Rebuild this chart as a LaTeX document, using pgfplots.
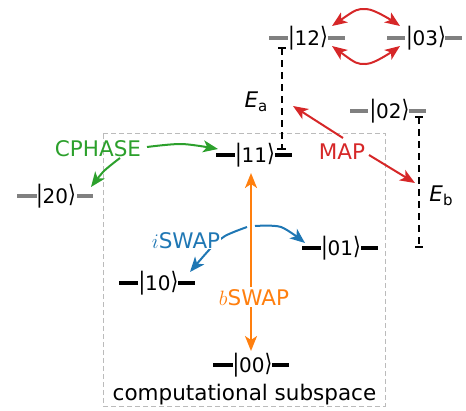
\documentclass[border=0pt]{standalone}
\usepackage{fontspec}
\setmainfont{DejaVu Sans}
\usepackage{graphicx}
\usepackage{pgfplots}
\pgfplotsset{compat=1.18}
\usetikzlibrary{arrows.meta}
\definecolor{tred}{HTML}{D62728}
\definecolor{tgreen}{HTML}{2CA02C}
\definecolor{tblue}{HTML}{1F77B4}
\definecolor{torange}{HTML}{FF7F0E}
\definecolor{lvlgray}{HTML}{808080}
\definecolor{boxgray}{HTML}{BBBBBB}
\newcommand{\kd}[1]{\raisebox{0.05em}{\scalebox{1}[1.2]{#1}}}
\newcommand{\ket}[1]{{\fontsize{20}{24}\selectfont\kd{|}#1\kd{⟩}}}
\begin{document}
\begin{tikzpicture}[every node/.append style={font=\fontsize{21.5}{25}\selectfont},
  arr/.style={line width=2pt, -{Stealth[length=15pt,width=12pt,inset=4pt]}},
  darr/.style={line width=2pt, {Stealth[length=15pt,width=12pt,inset=4pt]}-{Stealth[length=15pt,width=12pt,inset=4pt]}}]
\begin{axis}[width=466pt, height=410pt, scale only axis,
  xmin=0, xmax=466, ymin=0, ymax=410, y dir=reverse,
  hide axis, clip=false, unbounded coords=jump,
  anchor=south west, at={(0,0)}]
% computational subspace box
\addplot[boxgray, line width=1pt, dash pattern=on 5pt off 3pt] coordinates {(103,133) (385,133) (385,406) (103,406) (103,133)};
% gray levels (non-computational)
\addplot[lvlgray, line width=3.6pt] table[row sep=\\] {
x y\\
269 38\\ 288 38\\ nan nan\\ 328 38\\ 345 38\\ nan nan\\
387 38\\ 405 38\\ nan nan\\ 445 38\\ 462 38\\ nan nan\\
350 111\\ 368 111\\ nan nan\\ 409 111\\ 426 111\\ nan nan\\
17 196\\ 37 196\\ nan nan\\ 77 196\\ 93 196\\
};
% black levels (computational)
\addplot[black, line width=3.6pt] table[row sep=\\] {
x y\\
216 155\\ 235 155\\ nan nan\\ 275 155\\ 292 155\\ nan nan\\
302 248\\ 321 248\\ nan nan\\ 361 248\\ 378 248\\ nan nan\\
119 283\\ 138 283\\ nan nan\\ 178 283\\ 195 283\\ nan nan\\
213 365\\ 233 365\\ nan nan\\ 272 365\\ 289 365\\
};
% energy gaps
\addplot[black, line width=1.5pt, dash pattern=on 7pt off 5pt] coordinates {(282,48) (282,149)};
\addplot[black, line width=1.6pt] coordinates {(278,48) (286,48)};
\addplot[black, line width=1.6pt] coordinates {(277,149) (286,149)};
\addplot[black, line width=1.5pt, dash pattern=on 7pt off 5pt] coordinates {(419,117) (419,247)};
\addplot[black, line width=1.6pt] coordinates {(415,117) (423,117)};
\addplot[black, line width=1.6pt] coordinates {(415,247) (423,247)};
% MAP
\addplot[tred, arr] coordinates {(343,138) (293,106)};
\addplot[tred, arr] coordinates {(369,155) (415,183)};
% 12 <-> 03
\addplot[tred, darr, smooth] coordinates {(332,26) (366,9) (400,26)};
\addplot[tred, darr, smooth] coordinates {(332,46) (366,64) (400,46)};
% CPHASE
\addplot[tgreen, arr, smooth] coordinates {(147,147) (182,144) (218,149)};
\addplot[tgreen, arr, smooth] coordinates {(120,158) (104,171) (91,187)};
% iSWAP
\addplot[tblue, arr, smooth] coordinates {(247,227) (225,236) (210,249) (190,272)};
\addplot[tblue, arr, smooth] coordinates {(255,226) (281,227) (305,243)};
% bSWAP
\addplot[torange, darr] coordinates {(251,173) (251,351)};
% labels
\node[anchor=base, fill=white, inner sep=1pt] at (axis cs:186,248) {\textcolor{tblue}{$i$SWAP}};
\node[anchor=base, fill=white, inner sep=2pt] at (axis cs:254,305) {\textcolor{torange}{$b$SWAP}};
\node[anchor=base, text=tgreen] at (axis cs:98,156) {CPHASE};
\node[anchor=base, text=tred] at (axis cs:342,159) {MAP};
\node[anchor=base] at (axis cs:256,107) {\textit{E}\raisebox{-0.22em}{\fontsize{15}{15}\selectfont a}};
\node[anchor=base] at (axis cs:441,201) {\textit{E}\raisebox{-0.22em}{\fontsize{15}{15}\selectfont b}};
\node[anchor=base] at (axis cs:244.5,400) {computational subspace};
% kets
\node[anchor=base] at (axis cs:308,45.3) {\ket{12}};
\node[anchor=base] at (axis cs:426,45.3) {\ket{03}};
\node[anchor=base] at (axis cs:389.5,118.3) {\ket{02}};
\node[anchor=base] at (axis cs:56,203.3) {\ket{20}};
\node[anchor=base] at (axis cs:255,162.3) {\ket{11}};
\node[anchor=base] at (axis cs:341,255.3) {\ket{01}};
\node[anchor=base] at (axis cs:158.5,290.3) {\ket{10}};
\node[anchor=base] at (axis cs:252.5,372.3) {\ket{00}};
\end{axis}
\pgfresetboundingbox
\path[use as bounding box] (0,0) rectangle (466pt,410pt);
\end{tikzpicture}
\end{document}
